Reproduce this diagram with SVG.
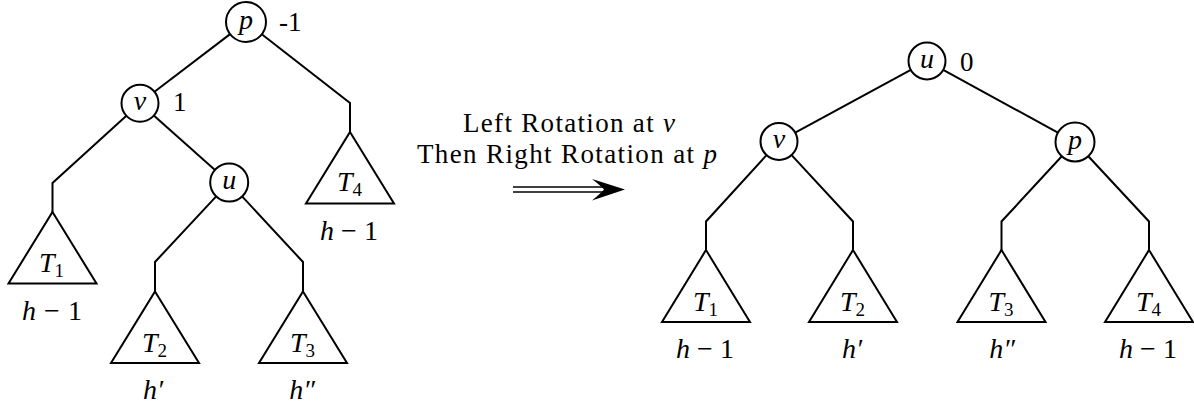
<svg xmlns="http://www.w3.org/2000/svg" width="1194" height="404" viewBox="0 0 1194 404" font-family="Liberation Serif, DejaVu Serif, serif">
<style>
.ln{fill:none;stroke:#000;stroke-width:2;stroke-linejoin:miter}
.nd{fill:#fff;stroke:#000;stroke-width:2}
.tr{fill:#fff;stroke:#000;stroke-width:2;stroke-linejoin:miter}
text{font-family:'Liberation Serif','DejaVu Serif',serif;font-size:27px;fill:#000}
.m{font-style:italic;font-size:28px}
.c{text-anchor:middle}
.sub{font-size:19px;font-style:normal}
</style>
<rect width="1194" height="404" fill="#fff"/>
<g id="connectors">
<line class="ln" x1="230.1" y1="34.1" x2="154.5" y2="91.8"/>
<polyline class="ln" points="261.8,34.3 350,103 350,132"/>
<polyline class="ln" points="126.4,115.8 52.5,183 52.5,212"/>
<line class="ln" x1="153.8" y1="115.6" x2="215" y2="169.9"/>
<polyline class="ln" points="216.2,196.4 155,262 155,291.5"/>
<polyline class="ln" points="242.1,196.4 303,262 303,291.5"/>
<line class="ln" x1="910.8" y1="69.8" x2="795.2" y2="132.7"/>
<line class="ln" x1="943.2" y1="69.9" x2="1057.9" y2="132.6"/>
<polyline class="ln" points="766.5,155.2 706,221.5 706,250"/>
<polyline class="ln" points="791.6,155.1 853,221.5 853,250"/>
<polyline class="ln" points="1061.8,156.3 1001.5,221.5 1001.5,250"/>
<polyline class="ln" points="1088.3,156.3 1149,221.5 1149,250"/>
</g>
<g id="L_p">
<circle class="nd" cx="246" cy="22" r="20"/>
<text class="m c" x="246" y="29">p</text>
<text x="279" y="31">-1</text>
</g>
<g id="L_v">
<circle class="nd" cx="140" cy="103.3" r="18.5"/>
<text class="m c" x="140" y="110">v</text>
<text x="173" y="111">1</text>
</g>
<g id="L_u">
<circle class="nd" cx="229.2" cy="182.5" r="19"/>
<text class="m c" x="229.2" y="189">u</text>
</g>
<g id="L_T1">
<polygon class="tr" points="52.5,212 96.5,283.5 8.5,283.5"/>
<text class="m c" x="51.5" y="272">T<tspan class="sub" dy="5">1</tspan></text>
<text class="m c" x="52" y="320" textLength="60">h <tspan font-style="normal">− 1</tspan></text>
</g>
<g id="L_T2">
<polygon class="tr" points="155,291.5 199,363 111,363"/>
<text class="m c" x="154.5" y="352">T<tspan class="sub" dy="5">2</tspan></text>
<text class="m c" x="153" y="399">h′</text>
</g>
<g id="L_T3">
<polygon class="tr" points="303,291.5 347,363 259,363"/>
<text class="m c" x="302.5" y="352">T<tspan class="sub" dy="5">3</tspan></text>
<text class="m c" x="302" y="399">h″</text>
</g>
<g id="L_T4">
<polygon class="tr" points="350,132 394,203.5 306,203.5"/>
<text class="m c" x="349.5" y="191">T<tspan class="sub" dy="5">4</tspan></text>
<text class="m c" x="349" y="240" textLength="58">h <tspan font-style="normal">− 1</tspan></text>
</g>
<g id="label">
<text class="c" x="569" y="132" textLength="212">Left Rotation at <tspan font-style="italic">v</tspan></text>
<text class="c" x="567" y="163" textLength="300">Then Right Rotation at <tspan font-style="italic">p</tspan></text>
<line x1="513" y1="187" x2="606" y2="187" stroke="#000" stroke-width="1.7"/>
<line x1="513" y1="192" x2="606" y2="192" stroke="#000" stroke-width="1.7"/>
<path d="M625,189.5 L592,179 Q601,186 604,189.5 Q601,193 592,200.5 Z" fill="#000"/>
</g>
<g id="R_u">
<circle class="nd" cx="927" cy="61" r="18.5"/>
<text class="m c" x="927" y="67.5">u</text>
<text x="960" y="71">0</text>
</g>
<g id="R_v">
<circle class="nd" cx="779" cy="141.5" r="18.5"/>
<text class="m c" x="779" y="148">v</text>
</g>
<g id="R_p">
<circle class="nd" cx="1075" cy="142" r="19.5"/>
<text class="m c" x="1075" y="149">p</text>
</g>
<g id="R_T1">
<polygon class="tr" points="706,250 750,322 662,322"/>
<text class="m c" x="705.5" y="311">T<tspan class="sub" dy="5">1</tspan></text>
<text class="m c" x="705" y="358" textLength="58">h <tspan font-style="normal">− 1</tspan></text>
</g>
<g id="R_T2">
<polygon class="tr" points="853,250 897,322 809,322"/>
<text class="m c" x="852.5" y="311">T<tspan class="sub" dy="5">2</tspan></text>
<text class="m c" x="852" y="358">h′</text>
</g>
<g id="R_T3">
<polygon class="tr" points="1001.5,250 1045.5,322 957.5,322"/>
<text class="m c" x="1001" y="311">T<tspan class="sub" dy="5">3</tspan></text>
<text class="m c" x="1002" y="358">h″</text>
</g>
<g id="R_T4">
<polygon class="tr" points="1149,250 1193,322 1105,322"/>
<text class="m c" x="1148.5" y="311">T<tspan class="sub" dy="5">4</tspan></text>
<text class="m c" x="1148" y="358" textLength="58">h <tspan font-style="normal">− 1</tspan></text>
</g>
</svg>
